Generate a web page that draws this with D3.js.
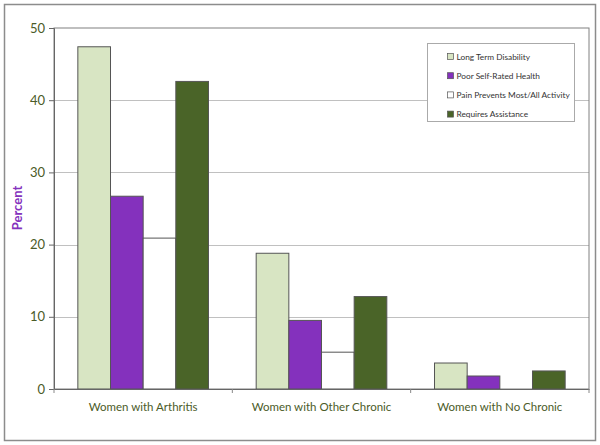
<!DOCTYPE html>
<html lang="en">
<head>
<meta charset="UTF-8">
<title>Women with Arthritis</title>
<script src="https://cdn.jsdelivr.net/npm/d3@7"></script>
<style>
  body { margin: 0; background: #fff; }
  svg text { font-family: Lato, "Open Sans", sans-serif; }
  .tick text { fill: #4b5b28; font-size: 13px; }
  .legend text { fill: #333; font-size: 8.3px; }
</style>
</head>
<body>
<script>
// chart data
var categories = ["Women with Arthritis", "Women with Other Chronic", "Women with No Chronic"];
var seriesNames = ["Long Term Disability", "Poor Self-Rated Health", "Pain Prevents Most/All Activity", "Requires Assistance"];
var longTermDisability = [47.4, 18.8, 3.6];
var poorHealth = [26.7, 9.5, 1.8];
var painPrevents = [20.9, 5.1, 0];
var requiresAssistance = [42.6, 12.8, 2.5];
var yTicks = [0, 10, 20, 30, 40, 50];
var colors = ["#d8e5c3", "#8431bd", "#ffffff", "#4a6428"];

var width = 600, height = 445;
var margin = {left: 54, top: 28, right: 11, bottom: 56};

var svg = d3.select("body").append("svg").attr("width", width).attr("height", height);

// outer frame
svg.append("rect").attr("x", 4.5).attr("y", 4.5).attr("width", 591).attr("height", 436)
    .attr("fill", "white").attr("stroke", "#8c8c8c").attr("stroke-width", 1.5);

var x0 = d3.scaleBand().domain(categories).range([margin.left, width - margin.right]);
var x1 = d3.scaleBand().domain(seriesNames).range([0, x0.bandwidth()]).paddingOuter(0.73);
var y = d3.scaleLinear().domain([0, 50]).range([height - margin.bottom, margin.top]);

// gridlines
svg.append("g").selectAll("line").data(yTicks.slice(1, 5)).enter().append("line")
    .attr("x1", margin.left).attr("x2", width - margin.right)
    .attr("y1", function(d){ return Math.round(y(d)) + 0.5; })
    .attr("y2", function(d){ return Math.round(y(d)) + 0.5; })
    .attr("stroke", "#c0c0c0");

// plot frame
svg.append("rect").attr("x", margin.left).attr("y", y(50))
    .attr("width", width - margin.right - margin.left).attr("height", y(0) - y(50))
    .attr("fill", "none").attr("stroke", "#808080");

var rows = categories.map(function(c, i){
    return [longTermDisability[i], poorHealth[i], painPrevents[i], requiresAssistance[i]];
});

var groups = svg.append("g").selectAll("g").data(rows).enter().append("g")
    .attr("transform", function(d, i){ return "translate(" + x0(categories[i]) + ",0)"; });

groups.selectAll("rect")
    .data(function(d){ return d.map(function(v, j){ return {name: seriesNames[j], value: v, j: j}; }).filter(function(e){ return e.value > 0; }); })
    .enter().append("rect")
    .attr("x", function(d){ return x1(d.name); })
    .attr("y", function(d){ return y(d.value); })
    .attr("width", x1.bandwidth())
    .attr("height", function(d){ return y(0) - y(d.value); })
    .attr("fill", function(d){ return colors[d.j]; })
    .attr("stroke", "#555")
    .attr("stroke-width", 1);

// axes
var yAxis = svg.append("g").attr("transform", "translate(" + margin.left + ",0)")
    .call(d3.axisLeft(y).tickValues(yTicks).tickSize(5).tickPadding(4));
yAxis.select(".domain").attr("stroke", "#666");
yAxis.selectAll(".tick line").attr("stroke", "#666");

var xAxis = svg.append("g").attr("transform", "translate(0," + y(0) + ")")
    .call(d3.axisBottom(x0).tickSize(0).tickPadding(14));
xAxis.select(".domain").attr("stroke", "#666");
xAxis.selectAll(".tick text").style("font-size", "11.5px");

// category separators
svg.append("g").selectAll("line").data(categories.concat(["end"])).enter().append("line")
    .attr("x1", function(d, i){ return i < categories.length ? x0(d) : x0.range()[1]; })
    .attr("x2", function(d, i){ return i < categories.length ? x0(d) : x0.range()[1]; })
    .attr("y1", y(0)).attr("y2", y(0) + 4)
    .attr("stroke", "#888");

// y title
svg.append("text")
    .attr("transform", "translate(22," + 208 + ") rotate(-90)")
    .attr("text-anchor", "middle")
    .attr("fill", "#8431bd").attr("font-weight", "bold").attr("font-size", "13px")
    .text("Percent");

// legend
var legend = svg.append("g").attr("class", "legend").attr("transform", "translate(427.5,43.5)");
legend.append("rect").attr("width", 147).attr("height", 78)
    .attr("fill", "white").attr("stroke", "#aaa");
var items = legend.selectAll("g.item").data(seriesNames).enter().append("g").attr("class", "item")
    .attr("transform", function(d, i){ return "translate(20," + (10 + i * 19.2) + ")"; });
items.append("rect").attr("width", 6).attr("height", 6)
    .attr("fill", function(d, i){ return colors[i]; }).attr("stroke", "#555").attr("stroke-width", 0.7);
items.append("text").attr("x", 9).attr("y", 6).text(function(d){ return d; });
</script>
</body>
</html>
